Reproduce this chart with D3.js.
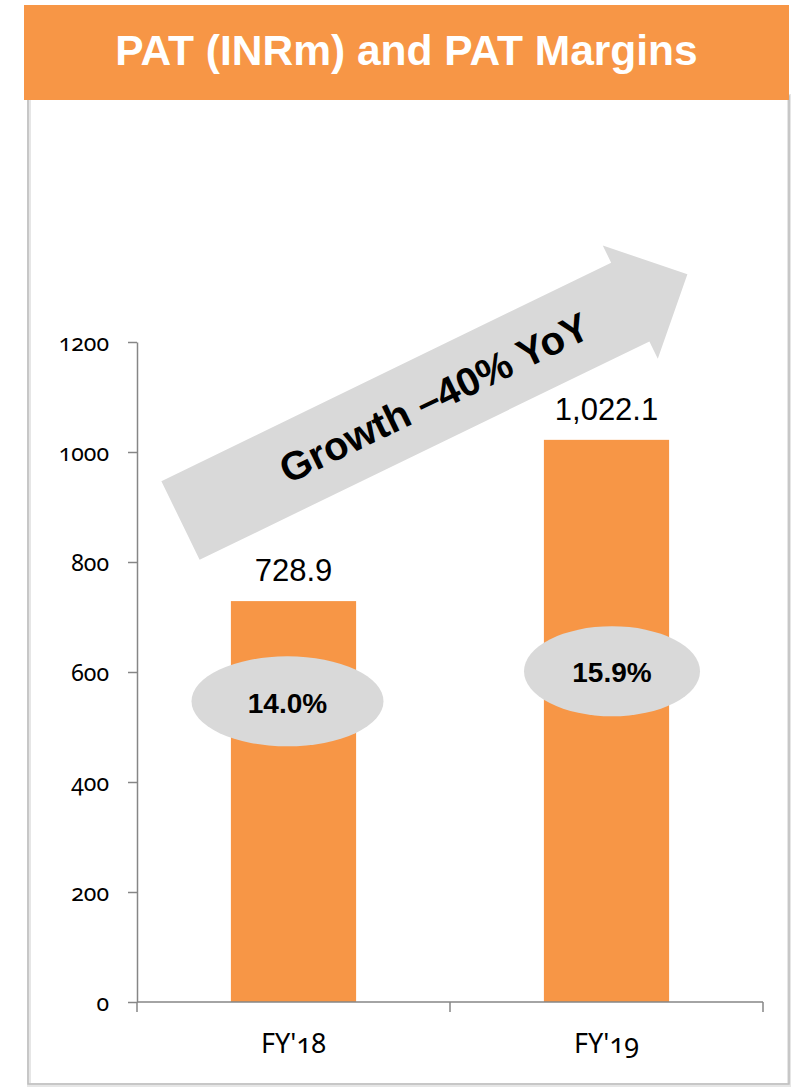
<!DOCTYPE html>
<html>
<head>
<meta charset="utf-8">
<script src="https://cdn.jsdelivr.net/npm/d3@7"></script>
<style>
  html, body { margin: 0; padding: 0; background: #ffffff; }
  svg { display: block; }
  .num { font-family: "Noto Sans", "Open Sans", sans-serif; font-variant-numeric: oldstyle-nums; font-feature-settings: "onum" 1; }
</style>
</head>
<body>
<svg id="chart" width="797" height="1089"></svg>
<script>
// Chart content
const titleText = "PAT (INRm) and PAT Margins";
const categories = ["FY'18", "FY'19"];
const patValues = [728.9, 1022.1];
const patLabels = ["728.9", "1,022.1"];
const marginValues = [14.0, 15.9];
const marginLabels = ["14.0%", "15.9%"];
const yTicks = [0, 200, 400, 600, 800, 1000, 1200];
const growthText = "Growth \u201340% YoY";

// Palette
const ORANGE = "#F79646";
const GREY = "#D9D9D9";
const AXIS = "#868686";

// Margin badges: horizontal nudge and radii for each ellipse
const badgeLayout = [
  { dx: -6, rx: 96, ry: 45 },
  { dx: 5.5, rx: 88, ry: 45 }
];

const svg = d3.select("#chart");

// Card panel behind the chart
svg.append("rect")
  .attr("x", 29).attr("y", 96).attr("width", 760).attr("height", 989)
  .attr("fill", "#ffffff").attr("stroke", "#e6e6e6").attr("stroke-width", 4);
svg.append("rect")
  .attr("x", 28).attr("y", 96).attr("width", 761).attr("height", 988)
  .attr("fill", "none").attr("stroke", "#bdbdbd").attr("stroke-width", 1.5);

// Title band
svg.append("rect")
  .attr("x", 24).attr("y", 5).attr("width", 765).attr("height", 95)
  .attr("fill", ORANGE);
svg.append("text")
  .attr("x", 406.5).attr("y", 65)
  .attr("text-anchor", "middle")
  .attr("font-family", "'Liberation Sans', Arial, sans-serif")
  .attr("font-weight", "bold")
  .attr("font-size", 42.5)
  .attr("fill", "#ffffff")
  .text(titleText);

// Scales
const x = d3.scaleBand()
  .domain(categories)
  .range([137, 763])
  .paddingInner(0.6)
  .paddingOuter(0.3);
const y = d3.scaleLinear().domain([0, 1200]).range([1002, 342]);
const yMargin = d3.scaleLinear().domain([12, 18]).range([733, 638]);

// Y axis
const yAxis = svg.append("g")
  .attr("transform", "translate(137,0)")
  .call(d3.axisLeft(y)
    .tickValues(yTicks)
    .tickFormat(d3.format("d"))
    .tickSize(9)
    .tickSizeOuter(0)
    .tickPadding(19));
yAxis.select(".domain").attr("stroke", AXIS).attr("stroke-width", 1.5);
yAxis.selectAll(".tick line").attr("stroke", AXIS).attr("stroke-width", 1.5);
yAxis.selectAll(".tick text")
  .attr("class", "num")
  .attr("font-size", 23)
  .attr("dy", "0.36em")
  .attr("fill", "#000");

// Bars
svg.append("g").selectAll("rect")
  .data(categories)
  .join("rect")
  .attr("x", d => x(d))
  .attr("y", (d, i) => y(patValues[i]))
  .attr("width", x.bandwidth())
  .attr("height", (d, i) => y(0) - y(patValues[i]))
  .attr("fill", ORANGE);

// X axis: baseline with ticks at category boundaries
const xr = x.range();
svg.append("line")
  .attr("x1", xr[0]).attr("x2", xr[1])
  .attr("y1", y(0)).attr("y2", y(0))
  .attr("stroke", AXIS).attr("stroke-width", 1.5);
const bounds = d3.range(categories.length + 1).map(i => xr[0] + i * x.step());
svg.append("g").selectAll("line")
  .data(bounds)
  .join("line")
  .attr("x1", d => d).attr("x2", d => d)
  .attr("y1", y(0)).attr("y2", y(0) + 10)
  .attr("stroke", AXIS).attr("stroke-width", 1.5);
svg.append("g").selectAll("text")
  .data(categories)
  .join("text")
  .attr("class", "num")
  .attr("x", d => x(d) + x.bandwidth() / 2)
  .attr("y", 1053)
  .attr("text-anchor", "middle")
  .attr("font-size", 27)
  .attr("fill", "#000")
  .text(d => d);

// Value labels above bars
svg.append("g").selectAll("text")
  .data(categories)
  .join("text")
  .attr("x", d => x(d) + x.bandwidth() / 2)
  .attr("y", (d, i) => y(patValues[i]) - 20)
  .attr("text-anchor", "middle")
  .attr("font-family", "'Liberation Sans', Arial, sans-serif")
  .attr("font-size", 31)
  .attr("fill", "#000")
  .text((d, i) => patLabels[i]);

// Margin badges
const badges = svg.append("g").selectAll("g")
  .data(categories)
  .join("g")
  .attr("transform", (d, i) =>
    `translate(${x(d) + x.bandwidth() / 2 + badgeLayout[i].dx},${yMargin(marginValues[i])})`);
badges.append("ellipse")
  .attr("rx", (d, i) => badgeLayout[i].rx)
  .attr("ry", (d, i) => badgeLayout[i].ry)
  .attr("fill", GREY);
badges.append("text")
  .attr("text-anchor", "middle")
  .attr("dy", "0.4em")
  .attr("font-family", "'Liberation Sans', Arial, sans-serif")
  .attr("font-weight", "bold")
  .attr("font-size", 28)
  .attr("fill", "#000")
  .text((d, i) => marginLabels[i]);

// Growth arrow
const shaftLen = 500, headLen = 63.5, shaftHalf = 43.75, headHalf = 63;
const arrow = svg.append("g")
  .attr("transform", "translate(180.5,520.5) rotate(-25.9)");
arrow.append("path")
  .attr("d", d3.line()([
    [0, -shaftHalf], [shaftLen, -shaftHalf], [shaftLen, -headHalf],
    [shaftLen + headLen, 0], [shaftLen, headHalf], [shaftLen, shaftHalf],
    [0, shaftHalf]
  ]) + "Z")
  .attr("fill", GREY);
arrow.append("text")
  .attr("x", (shaftLen + headLen) / 2)
  .attr("y", 0)
  .attr("dy", "0.36em")
  .attr("text-anchor", "middle")
  .attr("font-family", "'Liberation Sans', Arial, sans-serif")
  .attr("font-weight", "bold")
  .attr("font-size", 40)
  .attr("fill", "#000")
  .text(growthText);
</script>
</body>
</html>
